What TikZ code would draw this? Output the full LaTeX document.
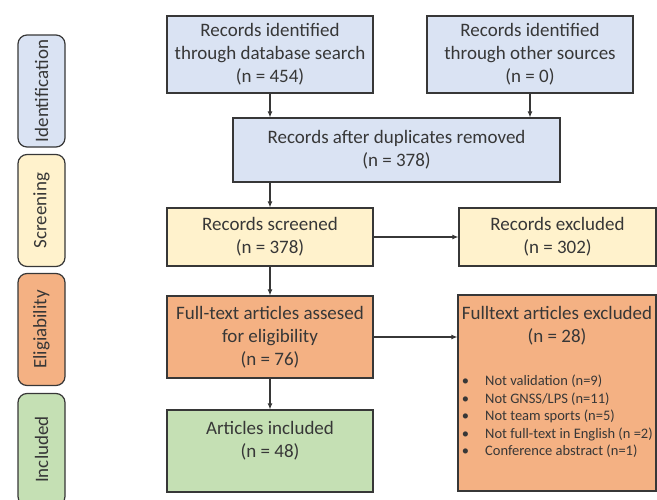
\documentclass[tikz,border=0pt]{standalone}
\usepackage{fontspec}
\setmainfont{Carlito}
\usepackage{xcolor}
\usepackage{tikz}
\usetikzlibrary{arrows.meta, positioning, calc}
\definecolor{prismablue}{RGB}{218,227,243}
\definecolor{prismayellow}{RGB}{255,242,204}
\definecolor{prismaorange}{RGB}{244,177,131}
\definecolor{prismagreen}{RGB}{197,224,180}
\definecolor{prismagray}{RGB}{55,55,55}

\begin{document}
\begin{tikzpicture}[
    x=1pt, y=-1pt,
    box/.style={rectangle, draw=prismagray, line width=1.2pt, align=center, text=prismagray, font=\fontsize{19}{23}\selectfont, minimum width=206pt, inner sep=2pt},
    phase/.style={rectangle, rounded corners=9pt, draw=prismagray, line width=1.2pt, rotate=90, minimum width=112pt, minimum height=47pt, text=prismagray, font=\fontsize{19}{23}\selectfont},
    arrow/.style={-{Latex[length=6pt, width=5pt]}, line width=1.1pt, draw=prismagray}
]
\useasboundingbox (0,0) rectangle (657,499);

% phases on the left
\node[phase, fill=prismablue] (identification) at (41.5,91) {Identification};
\node[phase, fill=prismayellow] (screening) at (41.5,210.5) {Screening};
\node[phase, fill=prismaorange] (eligibility) at (41.5,329.5) {Eligiability};
\node[phase, fill=prismagreen] (included) at (41.5,449.5) {Included};

% flow boxes
\node[box, fill=prismablue, minimum height=77pt] (idsearch) at (270,54.5) {Records identified\\through database search\\(n = 454)};
\node[box, fill=prismablue, minimum height=77pt] (idother) at (530,54.5) {Records identified\\through other sources\\(n = 0)};
\node[box, fill=prismablue, minimum width=327pt, minimum height=64pt] (dup) at (396.5,150) {Records after duplicates removed\\(n = 378)};
\node[box, fill=prismayellow, minimum height=58pt] (screened) at (270,237) {Records screened\\(n = 378)};
\node[box, fill=prismayellow, minimum width=197pt, minimum height=58pt] (excluded) at (557.5,237) {Records excluded\\(n = 302)};
\node[box, fill=prismaorange, minimum height=82pt] (fulltext) at (270,337) {Full-text articles assesed\\for eligibility\\(n = 76)};
\node[box, fill=prismaorange, minimum width=198pt, minimum height=196pt] (ftexcl) at (557,393) {};
\node[below=8pt of ftexcl.north, align=center, text=prismagray, font=\fontsize{19}{23}\selectfont] (ftexcltitle) {Fulltext articles excluded\\(n = 28)};
\node[anchor=north west, align=left, text=prismagray, font=\fontsize{14.5}{17.5}\selectfont] (reasons) at ($(ftexcl.north west)+(1,77)$) {%
\textbullet\hspace{16pt}Not validation (n=9)\\
\textbullet\hspace{16pt}Not GNSS/LPS (n=11)\\
\textbullet\hspace{16pt}Not team sports (n=5)\\
\textbullet\hspace{16pt}Not full-text in English (n =2)\\
\textbullet\hspace{16pt}Conference abstract (n=1)};
\node[box, fill=prismagreen, minimum height=82pt] (incl) at (270,451) {Articles included\\(n = 48)\\\mbox{}};

% connectors
\draw[arrow] (idsearch.south) -- (idsearch.south |- dup.north);
\draw[arrow] (idother.south) -- (idother.south |- dup.north);
\draw[arrow] (dup.south -| screened.north) -- (screened.north);
\draw[arrow] (screened.east) -- (excluded.west);
\draw[arrow] (screened.south) -- (fulltext.north);
\draw[arrow] (fulltext.east) -- (fulltext.east -| ftexcl.west);
\draw[arrow] (fulltext.south) -- (incl.north);
\end{tikzpicture}
\end{document}
